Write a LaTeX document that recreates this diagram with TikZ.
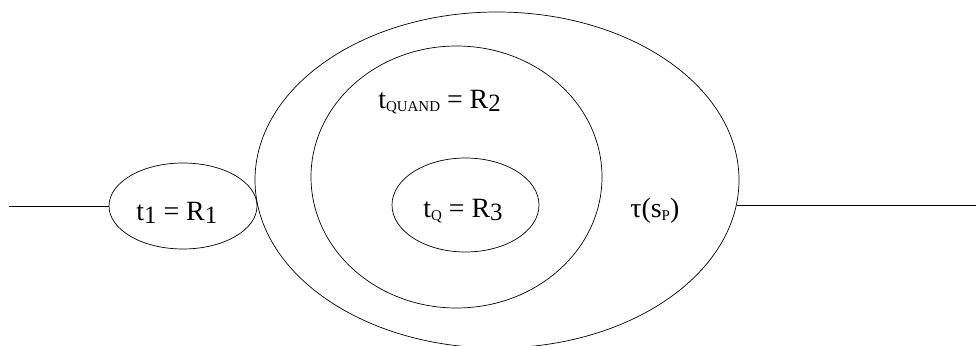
\documentclass[tikz,border=0pt]{standalone}
\usepackage{fontspec}
\setmainfont{Liberation Serif}
\usetikzlibrary{shapes.geometric}
\newcommand{\dn}[1]{\raisebox{-0.12em}{\fontsize{25}{25}\selectfont #1}}
\newcommand{\sm}[1]{\raisebox{-0.12em}{\fontsize{15}{15}\selectfont #1}}

\begin{document}
\begin{tikzpicture}[x=1bp,y=1bp,line width=0.7bp,
  oval/.style={draw,ellipse,inner sep=0pt},
  lbl/.style={anchor=base west,inner sep=0pt,font=\fontsize{28}{30}\selectfont}]
  \clip (0,0) rectangle (976,345);
  \node[oval,minimum width=484bp,minimum height=336bp] (outer) at (497,165) {};
  \node[oval,minimum width=291bp,minimum height=262bp] (mid) at (456.5,168) {};
  \node[oval,minimum width=147bp,minimum height=94bp] (inner) at (465.5,140) {};
  \node[oval,minimum width=148bp,minimum height=86bp] (first) at (183,139) {};
  \coordinate (lstart) at (9,139);
  \coordinate (rend) at (976,140);
  \draw (lstart) -- (first.west);
  \draw (outer.-6) -- (outer.-6 -| rend);
  \node[lbl] (l1) at (136,125) {t\dn{1} = R\dn{1}};
  \node[lbl] (l2) at (378,237) {t\sm{QUAND} = R\dn{2}};
  \node[lbl] (l3) at (423,128) {t\sm{Q} = R\dn{3}};
  \node[lbl] (l4) at (630,128) {τ(s\sm{P})};
\end{tikzpicture}
\end{document}
